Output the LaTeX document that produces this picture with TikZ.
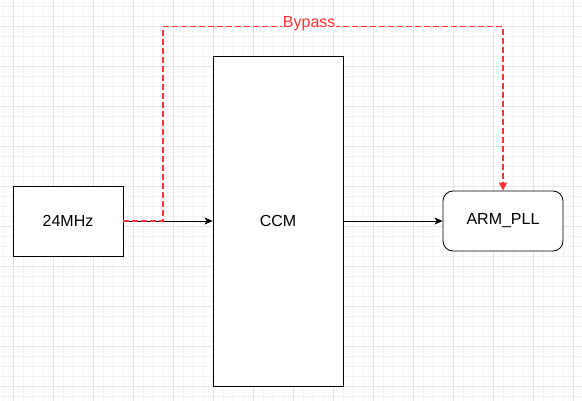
\documentclass[tikz,border=0pt]{standalone}
\usepackage{fontspec}
\setmainfont{Liberation Sans}
\usetikzlibrary{arrows.meta}
\definecolor{gridminor}{HTML}{F3F3F3}
\definecolor{gridmajor}{HTML}{E3E3E3}
\definecolor{bypassred}{HTML}{FF3333}
\tikzset{
  block/.style={draw, thick, fill=white, inner sep=0pt},
  flow/.style={thick, -{Stealth[length=8pt,width=7pt,inset=2pt]}},
  bypass/.style={bypassred, line width=1.5pt, dash pattern=on 6pt off 3pt,
    -{Triangle[length=8pt,width=8pt]}},
}
\begin{document}
\begin{tikzpicture}[x=1pt, y=-1pt, every node/.style={font=\fontsize{16}{19}\selectfont}]
  \useasboundingbox[fill=white] (0,0) rectangle (582,401);
  % background grid
  \foreach \k in {0,...,57} \draw[gridminor, line width=0.8pt] (3.3+10*\k,0) -- (3.3+10*\k,401);
  \foreach \k in {0,...,39} \draw[gridminor, line width=0.8pt] (0,6.7+10*\k) -- (582,6.7+10*\k);
  \foreach \k in {0,...,14} \draw[gridmajor, line width=0.8pt] (13.3+40*\k,0) -- (13.3+40*\k,401);
  \foreach \k in {0,...,9} \draw[gridmajor, line width=0.8pt] (0,26.7+40*\k) -- (582,26.7+40*\k);
  % blocks
  \node[block, minimum width=110pt, minimum height=70pt] (osc) at (68,221) {24MHz};
  \node[block, minimum width=130pt, minimum height=330pt] (ccm) at (278,221) {CCM};
  \node[block, rounded corners=10pt, minimum width=120pt, minimum height=60pt] (pll) at (503,221) {ARM\_PLL};
  % clock path
  \draw[flow] (osc) -- (ccm);
  \draw[flow] (ccm) -- (pll);
  % bypass
  \coordinate (up) at (163,26.7);
  \coordinate (over) at (503,26.7);
  \draw[bypass] (osc.east) -| (up) -- node[pos=0.43, fill=white, inner sep=1pt, text=bypassred, yshift=3pt] {Bypass} (over) -- (pll.north);
\end{tikzpicture}
\end{document}
